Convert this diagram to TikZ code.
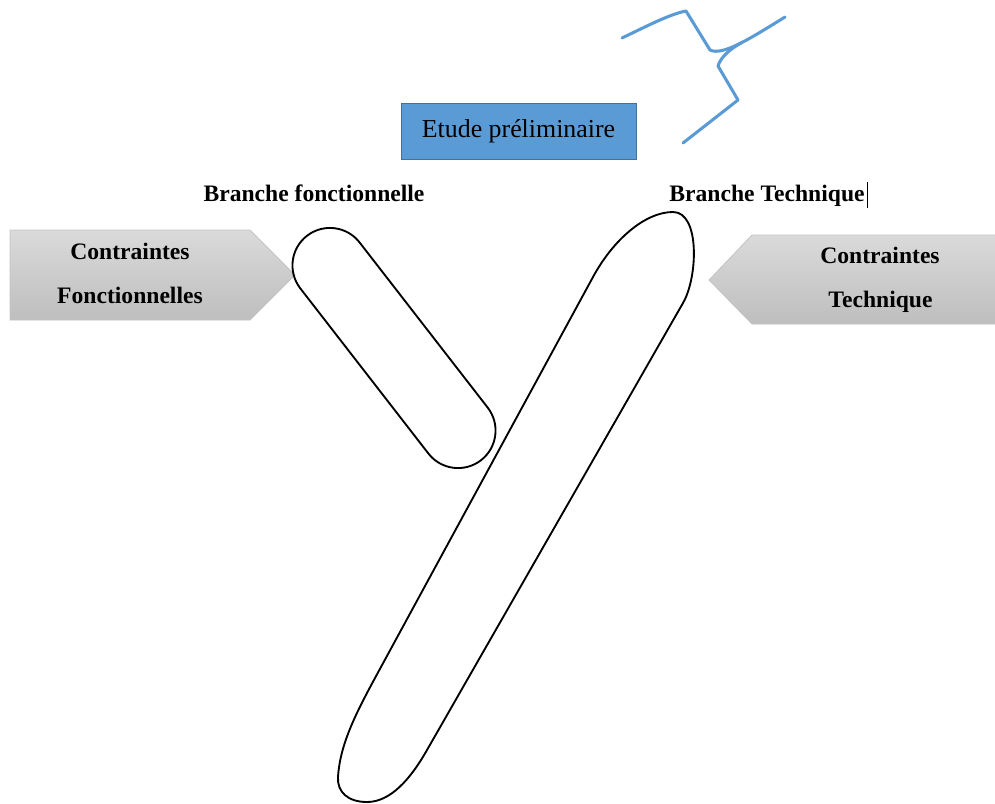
\documentclass[tikz,border=0pt]{standalone}
\usepackage{fontspec}
\setmainfont{Liberation Serif}
\usetikzlibrary{shapes.misc}
\definecolor{boxblue}{HTML}{5B9BD5}
\definecolor{boxedge}{HTML}{41719C}
\definecolor{arrowtop}{HTML}{DADADA}
\definecolor{arrowbot}{HTML}{BEBEBE}
\definecolor{arrowedge}{HTML}{C4C4C4}
\begin{document}
\begin{tikzpicture}[x=0.75pt,y=-0.75pt,
  lbl/.style={font=\fontsize{17.7}{20}\selectfont\bfseries, anchor=base, inner sep=0pt},
  grayarrow/.style={draw=arrowedge, line width=0.6pt, top color=arrowtop, bottom color=arrowbot},
  outline/.style={draw=black, line width=1.4pt},
  scribble/.style={draw=boxblue, line width=2.3pt, line cap=round, line join=round}]
\useasboundingbox (0,0) rectangle (995,803);

% preliminary study box
\node[draw=boxedge, line width=0.7pt, fill=boxblue, minimum width=235*0.75pt,
      minimum height=56*0.75pt, inner sep=0pt, font=\fontsize{19.4}{21}\selectfont]
      (etude) at (518.5,131) {Etude préliminaire};

% hand-drawn blue stroke
\draw[scribble] (622,38) .. controls (645,27) and (670,14) .. (686,11)
  -- (710,50) .. controls (722,56) and (748,40) .. (785,17);
\draw[scribble] (741,43) .. controls (732,48) and (721,56) .. (718,66)
  -- (738,100) -- (683,143);

% branch titles
\node[lbl] (bf) at (314,201.5) {Branche fonctionnelle};
\node[lbl] (bt) at (767,201.5) {Branche Technique};
\coordinate (curtop) at (867.5,182);
\coordinate (curbot) at (867.5,208);
\draw[line width=0.8pt] (curtop) -- (curbot);

% constraint arrows
\path[grayarrow] (10,230) -- (250,230) -- (295,275) -- (250,320) -- (10,320) -- cycle;
\path[grayarrow] (996,235) -- (752,235) -- (709,280) -- (752,324) -- (996,324) -- cycle;
\node[lbl] (cf1) at (130,259) {Contraintes};
\node[lbl] (cf2) at (130,303.5) {Fonctionnelles};
\node[lbl] (ct1) at (880,263) {Contraintes};
\node[lbl] (ct2) at (880.5,307) {Technique};

% functional branch
\node[outline, rounded rectangle, minimum width=284*0.75pt, minimum height=75*0.75pt,
      inner sep=0pt, rotate=-52.2] (fbranch) at (394,348) {};

% technical branch
\draw[outline] (673,212) .. controls (700,212) and (698,277) .. (683,303)
  -- (427,750) .. controls (410,780) and (390,802) .. (367,802)
  .. controls (348,802) and (337,792) .. (338,777)
  .. controls (340,745) and (355,715) .. (375,678)
  -- (593,277) .. controls (613,240) and (645,212) .. (673,212) -- cycle;
\end{tikzpicture}
\end{document}
